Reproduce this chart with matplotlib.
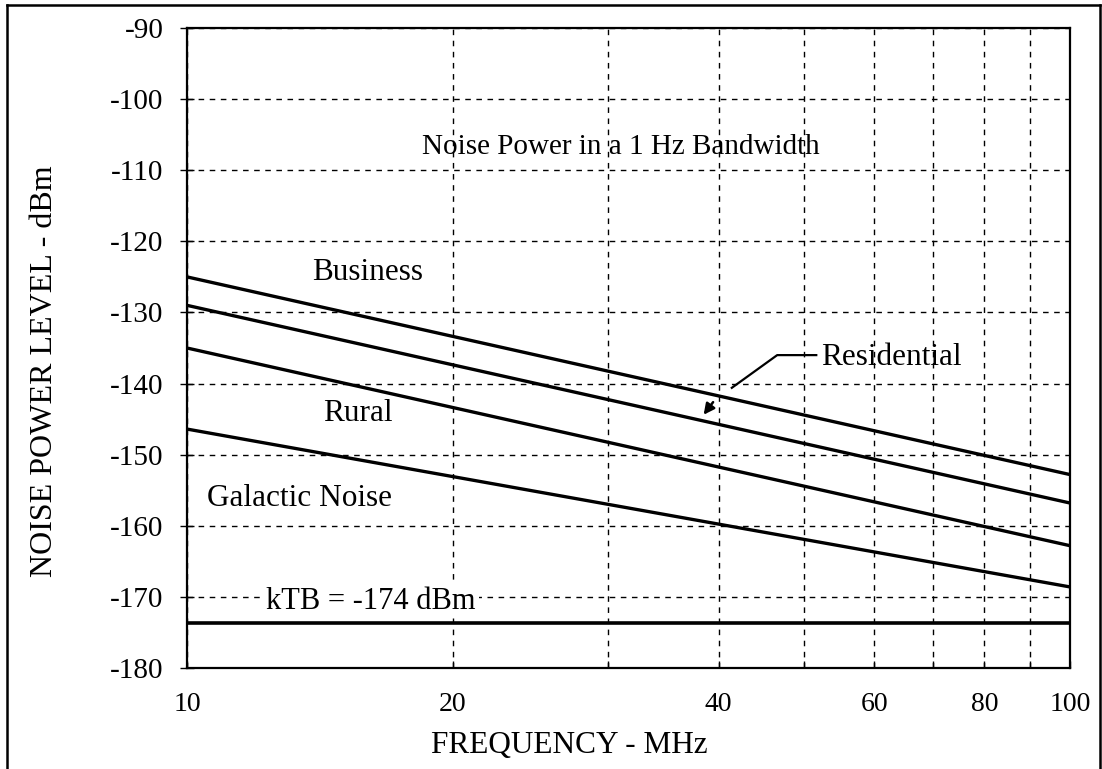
import matplotlib
matplotlib.use("Agg")
import matplotlib.pyplot as plt
from matplotlib.lines import Line2D

plt.rcParams['font.family'] = ['Liberation Serif', 'DejaVu Serif']

# Data
freq = [10, 100]
business = [-125.0, -152.8]
residential = [-129.0, -156.8]
rural = [-135.0, -162.8]
galactic = [-146.4, -168.6]
ktb = [-173.7, -173.7]

xticks = [10, 20, 30, 40, 50, 60, 70, 80, 90, 100]
xticklabels = ['10', '20', '', '40', '', '60', '', '80', '', '100']
yticks = [-180, -170, -160, -150, -140, -130, -120, -110, -100, -90]

W, H = 1102, 769
fig = plt.figure(figsize=(W / 100, H / 100), dpi=100)
ax = fig.add_axes([187 / W, 1 - 668 / H, (1070 - 187) / W, (668 - 28) / H])

ax.set_xscale('log')
ax.set_xlim(10, 100)
ax.set_ylim(-180, -90)
ax.set_xticks(xticks)
ax.set_xticklabels(xticklabels)
ax.xaxis.set_minor_locator(matplotlib.ticker.NullLocator())
ax.set_yticks(yticks)
ax.set_yticklabels([str(v) for v in yticks])

ax.grid(True, which='major', color='black', linestyle=(0, (4, 4)), linewidth=1.0)
ax.tick_params(axis='x', direction='in', length=5, width=1, labelsize=20, pad=17)
ax.tick_params(axis='y', direction='inout', length=10, width=1, labelsize=21, pad=12)
for s in ax.spines.values():
    s.set_linewidth(1.6)

lw = 2.4
ax.plot(freq, business, color='black', lw=lw, zorder=3)
ax.plot(freq, residential, color='black', lw=lw, zorder=3)
ax.plot(freq, rural, color='black', lw=lw, zorder=3)
ax.plot(freq, galactic, color='black', lw=lw, zorder=3)
ax.plot(freq, ktb, color='black', lw=2.6, zorder=3)

tfs = 22.5
ax.text(31.0, -106.7, 'Noise Power in a 1 Hz Bandwidth', fontsize=21, ha='center', va='center')
ax.text(16.0, -124.4, 'Business', fontsize=tfs, ha='center', va='center')
ax.text(15.6, -144.2, 'Rural', fontsize=tfs, ha='center', va='center')
ax.text(13.4, -156.2, 'Galactic Noise', fontsize=tfs, ha='center', va='center')
ax.text(12.3, -170.6, 'kTB = -174 dBm', fontsize=tfs - 0.5, ha='left', va='center',
        bbox=dict(facecolor='white', edgecolor='none', pad=2), zorder=4)
ax.text(52.2, -136.4, 'Residential', fontsize=tfs, ha='left', va='center')
# leader line for Residential label
ax.plot([41.4, 46.6, 51.6], [-140.6, -136.0, -136.0], color='black', lw=1.6, zorder=4)
ax.annotate('', xy=(38.3, -144.7), xytext=(39.6, -142.3),
            arrowprops=dict(arrowstyle='-|>', color='black', lw=1.8, mutation_scale=16), zorder=4)

fig.text(45 / W, 1 - 371 / H, 'NOISE POWER LEVEL - dBm', rotation=90, fontsize=23,
         ha='center', va='center')
fig.text(569 / W, 1 - 745 / H, 'FREQUENCY - MHz', fontsize=22.5, ha='center', va='center')

# outer frame (top, left, right)
fig.add_artist(Line2D([7 / W, 7 / W], [0, 1 - 5 / H], color='black', lw=1.8, transform=fig.transFigure))
fig.add_artist(Line2D([7 / W, 1100 / W], [1 - 5 / H, 1 - 5 / H], color='black', lw=1.8, transform=fig.transFigure))
fig.add_artist(Line2D([1100 / W, 1100 / W], [0, 1 - 5 / H], color='black', lw=1.8, transform=fig.transFigure))

fig.savefig('out.png', dpi=100)
